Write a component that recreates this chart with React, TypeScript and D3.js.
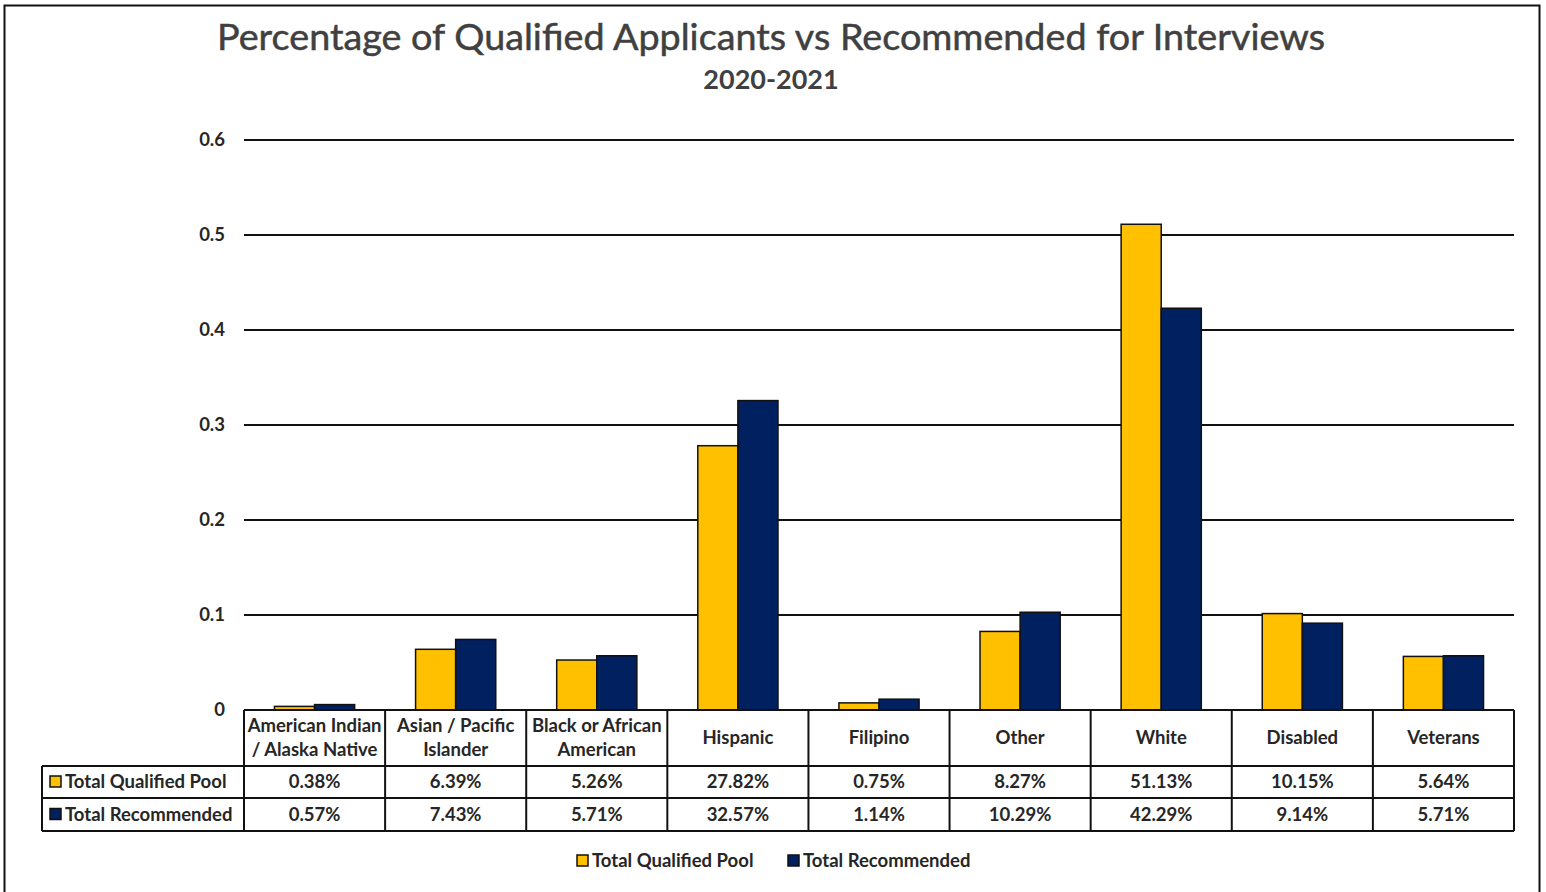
import * as d3 from "d3";
import React, { useEffect, useRef } from "react";

const categories = [
  "American Indian\n/ Alaska Native",
  "Asian / Pacific\nIslander",
  "Black or African\nAmerican",
  "Hispanic",
  "Filipino",
  "Other",
  "White",
  "Disabled",
  "Veterans",
];
const seriesNames = ["Total Qualified Pool", "Total Recommended"];
const qualifiedPct = [0.38, 6.39, 5.26, 27.82, 0.75, 8.27, 51.13, 10.15, 5.64];
const recommendedPct = [0.57, 7.43, 5.71, 32.57, 1.14, 10.29, 42.29, 9.14, 5.71];
const yTicks = [0, 0.1, 0.2, 0.3, 0.4, 0.5, 0.6];
const colors = ["#FFC000", "#002060"];

const W = 1546;
const H = 892;
const FONT = "Lato, 'Open Sans', sans-serif";
const TEXT = "#262626";
const FS = 18.5;

export default function App() {
  const ref = useRef<SVGSVGElement | null>(null);

  useEffect(() => {
    document.body.style.margin = "0";
    const svg = d3.select(ref.current);
    svg.selectAll("*").remove();

    const margin = { top: 140, right: 32, bottom: 182, left: 244 };
    const plotBottom = H - margin.bottom; // 710
    const series = [qualifiedPct, recommendedPct];

    const x = d3
      .scaleBand()
      .domain(categories)
      .range([margin.left, W - margin.right])
      .padding(0);

    const x1 = d3
      .scaleBand()
      .domain(seriesNames)
      .range([0, x.bandwidth()])
      .paddingInner(0)
      .paddingOuter(0.76);

    const y = d3.scaleLinear().domain([0, 0.6]).range([plotBottom, margin.top]);

    // outer frame
    svg
      .append("rect")
      .attr("x", 4.5)
      .attr("y", 5.5)
      .attr("width", 1535)
      .attr("height", 910)
      .attr("fill", "white")
      .attr("stroke", "#111")
      .attr("stroke-width", 2);

    // title
    svg
      .append("text")
      .attr("x", 771)
      .attr("y", 50)
      .attr("text-anchor", "middle")
      .attr("font-family", FONT)
      .attr("font-size", 37)
      .attr("stroke", "#404040")
      .attr("stroke-width", 0.5)
      .attr("fill", "#404040")
      .attr("textLength", 1108)
      .attr("lengthAdjust", "spacingAndGlyphs")
      .text("Percentage of Qualified Applicants vs Recommended for Interviews");

    svg
      .append("text")
      .attr("x", 771)
      .attr("y", 89)
      .attr("text-anchor", "middle")
      .attr("font-family", FONT)
      .attr("font-weight", 700)
      .attr("font-size", 27)
      .attr("fill", "#404040")
      .text("2020-2021");

    // gridlines + y labels
    const grid = svg.append("g");
    yTicks.forEach((t) => {
      if (t > 0) {
        grid
          .append("line")
          .attr("x1", margin.left)
          .attr("x2", W - margin.right)
          .attr("y1", y(t))
          .attr("y2", y(t))
          .attr("stroke", "#111")
          .attr("stroke-width", 1.8);
      }
      grid
        .append("text")
        .attr("x", 225)
        .attr("y", y(t))
        .attr("dy", "0.35em")
        .attr("text-anchor", "end")
        .attr("font-family", FONT)
        .attr("font-weight", 700)
        .attr("font-size", FS)
        .attr("fill", TEXT)
        .text(d3.format("")(t));
    });

    // bars
    const bars = svg.append("g");
    categories.forEach((c, i) => {
      seriesNames.forEach((s, j) => {
        const v = series[j][i] / 100;
        bars
          .append("rect")
          .attr("x", x(c)! + x1(s)!)
          .attr("y", y(v))
          .attr("width", x1.bandwidth())
          .attr("height", y(0) - y(v))
          .attr("fill", colors[j])
          .attr("stroke", "#111")
          .attr("stroke-width", 1.5);
      });
    });

    // data table
    const rowTop = [plotBottom, 766, 798, 831];
    const tableLeft = 42;
    const tbl = svg.append("g");
    const lineAttrs = (sel: d3.Selection<SVGLineElement, unknown, null, undefined>) =>
      sel.attr("stroke", "#111").attr("stroke-width", 2);

    tbl.append("line").attr("x1", margin.left).attr("x2", W - margin.right)
      .attr("y1", rowTop[0]).attr("y2", rowTop[0]).call(lineAttrs);
    [rowTop[1], rowTop[2], rowTop[3]].forEach((yy) => {
      tbl.append("line").attr("x1", tableLeft).attr("x2", W - margin.right)
        .attr("y1", yy).attr("y2", yy).call(lineAttrs);
    });
    tbl.append("line").attr("x1", tableLeft).attr("x2", tableLeft)
      .attr("y1", rowTop[1]).attr("y2", rowTop[3]).call(lineAttrs);
    categories.forEach((c) => {
      tbl.append("line").attr("x1", x(c)!).attr("x2", x(c)!)
        .attr("y1", rowTop[0]).attr("y2", rowTop[3]).call(lineAttrs);
    });
    tbl.append("line").attr("x1", W - margin.right).attr("x2", W - margin.right)
      .attr("y1", rowTop[0]).attr("y2", rowTop[3]).call(lineAttrs);

    const cellText = (g: typeof tbl, cx: number, cy: number, txt: string, anchor = "middle") =>
      g.append("text")
        .attr("x", cx)
        .attr("y", cy)
        .attr("dy", "0.35em")
        .attr("text-anchor", anchor)
        .attr("font-family", FONT)
        .attr("font-weight", 700)
        .attr("font-size", FS)
        .attr("fill", TEXT)
        .text(txt);

    // header row
    categories.forEach((c) => {
      const cx = x(c)! + x.bandwidth() / 2;
      const lines = c.split("\n");
      const mid = (rowTop[0] + rowTop[1]) / 2;
      lines.forEach((ln, k) => {
        const off = lines.length === 1 ? 0 : (k - 0.5) * 24;
        cellText(tbl, cx, mid + off, ln);
      });
    });

    // value rows
    seriesNames.forEach((s, j) => {
      const cy = (rowTop[j + 1] + rowTop[j + 2]) / 2;
      tbl.append("rect")
        .attr("x", 50)
        .attr("y", cy - 6)
        .attr("width", 11)
        .attr("height", 11)
        .attr("fill", colors[j])
        .attr("stroke", "#111")
        .attr("stroke-width", 1.5);
      cellText(tbl, 65, cy, s, "start");
      categories.forEach((c, i) => {
        cellText(tbl, x(c)! + x.bandwidth() / 2, cy, d3.format(".2f")(series[j][i]) + "%");
      });
    });

    // legend
    const legendX = [577, 788];
    const leg = svg.append("g");
    seriesNames.forEach((s, j) => {
      leg.append("rect")
        .attr("x", legendX[j])
        .attr("y", 855)
        .attr("width", 11)
        .attr("height", 11)
        .attr("fill", colors[j])
        .attr("stroke", "#111")
        .attr("stroke-width", 1.5);
      cellText(leg, legendX[j] + 15, 861, s, "start");
    });
  }, []);

  return <svg ref={ref} width={W} height={H} style={{ display: "block" }} />;
}
